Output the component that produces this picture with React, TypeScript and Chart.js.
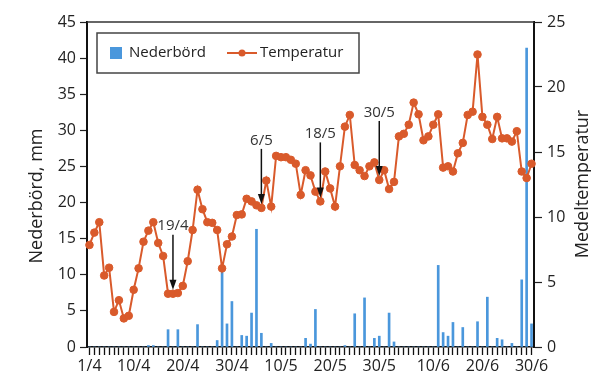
import React, { useEffect, useRef } from 'react';
import { Chart, registerables } from 'chart.js';

Chart.register(...registerables);

// Categories: every day 1/4 .. 30/6
const monthDays: [number, number][] = [[4, 30], [5, 31], [6, 30]];
const dates: string[] = [];
monthDays.forEach(([m, n]) => {
  for (let d = 1; d <= n; d++) dates.push(`${d}/${m}`);
});

const shownTicks = ['1/4', '10/4', '20/4', '30/4', '10/5', '20/5', '30/5', '10/6', '20/6', '30/6'];

// Nederbörd, mm (left axis)
const precipitation: number[] = [
  0, 0, 0, 0, 0, 0, 0, 0, 0, 0,
  0, 0, 0.2, 0.2, 0, 0, 2.4, 0, 2.4, 0,
  0, 0, 3.1, 0, 0, 0, 0.9, 11.1, 3.2, 6.3,
  0, 1.6, 1.5, 4.7, 16.3, 1.9, 0, 0.5, 0, 0,
  0, 0, 0, 0, 1.2, 0.4, 5.2, 0, 0, 0,
  0, 0, 0.2, 0, 4.6, 0, 6.8, 0, 1.2, 1.5,
  0, 4.7, 0.7, 0, 0, 0, 0, 0, 0, 0,
  0, 11.3, 2.0, 1.5, 3.4, 0, 2.7, 0, 0, 3.5,
  0, 6.9, 0, 1.2, 1.0, 0, 0.5, 0, 9.3, 41.4,
  3.2,
];

// Medeltemperatur, °C (right axis)
const temperature: number[] = [
  7.85, 8.8, 9.6, 5.5, 6.1, 2.7, 3.6, 2.2, 2.4, 4.4,
  6.05, 8.1, 8.95, 9.6, 8.0, 7.0, 4.1, 4.1, 4.15, 4.7,
  6.6, 9.0, 12.1, 10.6, 9.6, 9.55, 9.0, 6.05, 7.9, 8.5,
  10.15, 10.2, 11.4, 11.2, 10.9, 10.7, 12.8, 10.8, 14.7, 14.6,
  14.6, 14.4, 14.1, 11.7, 13.6, 13.2, 11.95, 11.2, 13.5, 12.2,
  10.8, 13.9, 16.95, 17.85, 14.0, 13.6, 13.15, 13.9, 14.2, 12.85,
  13.6, 12.15, 12.7, 16.2, 16.4, 17.1, 18.8, 17.9, 15.9, 16.2,
  17.1, 17.9, 13.8, 13.9, 13.5, 14.9, 15.7, 17.85, 18.1, 22.5,
  17.7, 17.1, 16.0, 17.7, 16.05, 16.05, 15.8, 16.6, 13.5, 13.0,
  14.1,
];

// Arrow annotations
const arrowLabels = ['19/4', '6/5', '18/5', '30/5'];
const arrowIndex = [17, 35, 47, 59];

const RED = '#d95a2b';
const BLUE = '#4a97dc';
const INK = '#222222';
const FONT = "'Open Sans', sans-serif";

const decorPlugin = {
  id: 'decor',
  afterDraw(chart: any) {
    const { ctx, chartArea } = chart;
    ctx.save();
    // top frame line
    ctx.strokeStyle = '#333';
    ctx.lineWidth = 1.5;
    ctx.beginPath();
    ctx.moveTo(chartArea.left, chartArea.top);
    ctx.lineTo(chartArea.right, chartArea.top);
    ctx.stroke();

    // legend box
    ctx.strokeStyle = '#444';
    ctx.lineWidth = 1.5;
    ctx.strokeRect(97, 33, 262, 40);
    ctx.fillStyle = BLUE;
    ctx.fillRect(110, 47, 12, 12);
    ctx.fillStyle = INK;
    ctx.font = `15px ${FONT}`;
    ctx.textAlign = 'left';
    ctx.textBaseline = 'middle';
    ctx.fillText('Nederbörd', 129, 53);
    ctx.strokeStyle = RED;
    ctx.lineWidth = 2;
    ctx.beginPath();
    ctx.moveTo(227, 53);
    ctx.lineTo(257, 53);
    ctx.stroke();
    ctx.fillStyle = RED;
    ctx.beginPath();
    ctx.arc(242, 53, 3.5, 0, Math.PI * 2);
    ctx.fill();
    ctx.fillStyle = INK;
    ctx.fillText('Temperatur', 260, 53);

    // arrows
    const meta = chart.getDatasetMeta(0);
    arrowIndex.forEach((idx, k) => {
      const pt = meta.data[idx];
      if (!pt) return;
      const x = pt.x;
      const tip = pt.y - 4;
      const top = tip - 55;
      ctx.strokeStyle = '#111';
      ctx.lineWidth = 1.5;
      ctx.beginPath();
      ctx.moveTo(x, top);
      ctx.lineTo(x, tip - 8);
      ctx.stroke();
      ctx.fillStyle = '#111';
      ctx.beginPath();
      ctx.moveTo(x, tip);
      ctx.lineTo(x - 3.5, tip - 10);
      ctx.lineTo(x + 3.5, tip - 10);
      ctx.closePath();
      ctx.fill();
      ctx.fillStyle = '#333';
      ctx.font = `15px ${FONT}`;
      ctx.textAlign = 'center';
      ctx.textBaseline = 'bottom';
      ctx.fillText(arrowLabels[k], x, top - 1);
    });

    // axis titles
    ctx.fillStyle = INK;
    ctx.font = `18px ${FONT}`;
    ctx.textAlign = 'center';
    ctx.textBaseline = 'middle';
    ctx.save();
    ctx.translate(37, 196);
    ctx.rotate(-Math.PI / 2);
    ctx.fillText('Nederbörd, mm', 0, 0);
    ctx.restore();
    ctx.save();
    ctx.translate(583, 184);
    ctx.rotate(-Math.PI / 2);
    ctx.fillText('Medeltemperatur', 0, 0);
    ctx.restore();
    ctx.restore();
  },
};

const App = () => {
  const ref = useRef<HTMLCanvasElement>(null);
  useEffect(() => {
    Chart.defaults.font.family = FONT;
    const chart = new Chart(ref.current as HTMLCanvasElement, {
      type: 'bar',
      data: {
        labels: dates,
        datasets: [
          {
            type: 'line',
            label: 'Temperatur',
            data: temperature,
            yAxisID: 'yR',
            borderColor: RED,
            backgroundColor: RED,
            borderWidth: 2,
            pointRadius: 3.8,
            pointBackgroundColor: RED,
            pointBorderColor: RED,
            pointBorderWidth: 1,
            tension: 0,
            order: 0,
          } as any,
          {
            type: 'bar',
            label: 'Nederbörd',
            data: precipitation,
            yAxisID: 'yL',
            backgroundColor: BLUE,
            barThickness: 2,
            order: 1,
          } as any,
        ],
      },
      options: {
        animation: false,
        responsive: true,
        maintainAspectRatio: false,
        layout: { padding: { top: 22, left: 0, right: 0, bottom: 0 } },
        plugins: {
          legend: { display: false },
          tooltip: { enabled: false },
        },
        scales: {
          x: {
            type: 'category',
            offset: true,
            grid: {
              display: true,
              offset: false,
              drawOnChartArea: false,
              drawTicks: true,
              tickLength: 8,
              tickColor: '#111',
              tickWidth: 1.3,
            },
            border: { display: true, color: '#111', width: 1.5 },
            ticks: {
              autoSkip: false,
              maxRotation: 0,
              minRotation: 0,
              padding: 2,
              color: INK,
              font: { size: 16, family: FONT },
              callback: (_v: any, i: number) => (shownTicks.includes(dates[i]) ? dates[i] : ''),
            },
            afterFit: (s: any) => {
              s.height = 31;
            },
          },
          yL: {
            type: 'linear',
            position: 'left',
            min: 0,
            max: 45,
            grid: {
              drawOnChartArea: false,
              drawTicks: true,
              tickLength: 7,
              tickColor: '#222',
              tickWidth: 1.2,
            },
            border: { display: true, color: '#111', width: 2 },
            ticks: { stepSize: 5, padding: 4, color: INK, font: { size: 16, family: FONT } },
            afterFit: (s: any) => {
              s.width = 87;
            },
          },
          yR: {
            type: 'linear',
            position: 'right',
            min: 0,
            max: 25,
            grid: {
              drawOnChartArea: false,
              drawTicks: true,
              tickLength: 8,
              tickColor: '#222',
              tickWidth: 1.2,
            },
            border: { display: true, color: '#111', width: 2 },
            ticks: { stepSize: 5, padding: 5, color: INK, font: { size: 16, family: FONT } },
            afterFit: (s: any) => {
              s.width = 57;
            },
          },
        },
      },
      plugins: [decorPlugin],
    });
    return () => chart.destroy();
  }, []);

  return (
    <div style={{ position: 'fixed', left: 0, top: 0, width: 591, height: 378, background: '#fff' }}>
      <canvas ref={ref} />
    </div>
  );
};

export default App;
